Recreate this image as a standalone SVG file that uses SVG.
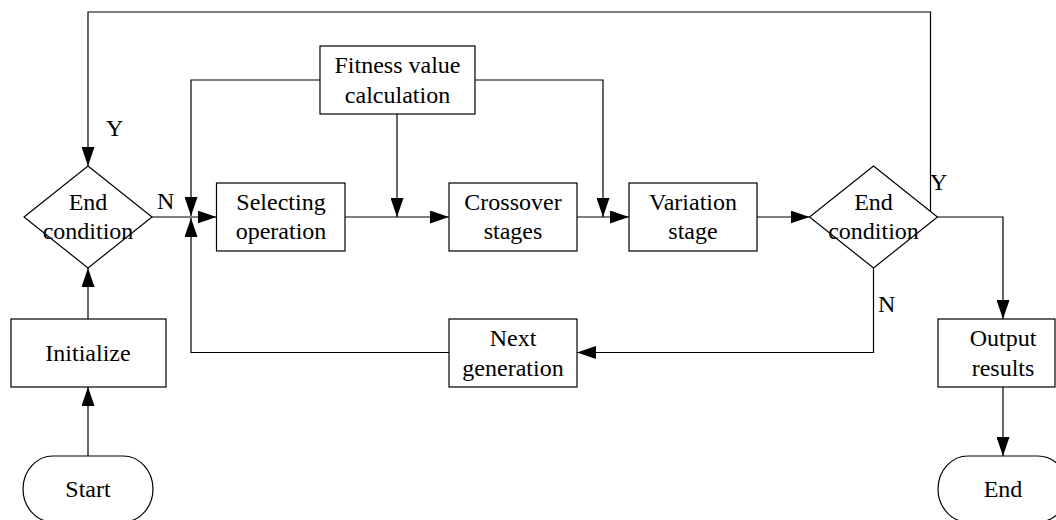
<svg xmlns="http://www.w3.org/2000/svg" width="1056" height="520" viewBox="0 0 1056 520">
<defs>
<marker id="arr" markerUnits="userSpaceOnUse" markerWidth="19" markerHeight="13" refX="19" refY="6.5" orient="auto">
<path d="M0,0 L19,6.5 L0,13 z" fill="#000"/>
</marker>
<style>
.n{fill:#fff;stroke:#000;stroke-width:1.2}
.t{font-family:"Liberation Serif","Times New Roman",serif;font-size:24px;fill:#000;text-anchor:middle}
.l{font-family:"Liberation Serif","Times New Roman",serif;font-size:24px;fill:#000}
.c{fill:none;stroke:#000;stroke-width:1.2}
</style>
</defs>
<rect width="1056" height="520" fill="#fff"/>
<g id="connectors">
<path class="c" d="M88,456 V387" marker-end="url(#arr)"/>
<path class="c" d="M88,319 V268" marker-end="url(#arr)"/>
<path class="c" d="M152,217 H216.5" marker-end="url(#arr)"/>
<path class="c" d="M345,217 H449" marker-end="url(#arr)"/>
<path class="c" d="M397,114 V217" marker-end="url(#arr)"/>
<path class="c" d="M320,80 H191 V216" marker-end="url(#arr)"/>
<path class="c" d="M475,80 H603 V217" marker-end="url(#arr)"/>
<path class="c" d="M577,217 H629" marker-end="url(#arr)"/>
<path class="c" d="M757,217 H809.5" marker-end="url(#arr)"/>
<path class="c" d="M873.5,268 V352.5 H577" marker-end="url(#arr)"/>
<path class="c" d="M449,352.5 H191 V218" marker-end="url(#arr)"/>
<path class="c" d="M937.5,217 H1003 V319" marker-end="url(#arr)"/>
<path class="c" d="M937.5,217 H930.5 V12 H88 V166" marker-end="url(#arr)"/>
<path class="c" d="M1003,387 V456" marker-end="url(#arr)"/>
<text class="l" x="106" y="136">Y</text>
<text class="l" x="157" y="209">N</text>
<text class="l" x="930" y="190">Y</text>
<text class="l" x="878" y="312">N</text>
</g>
<g id="start">
<rect class="n" x="23" y="456" width="130" height="66" rx="30" ry="33"/>
<text class="t" x="88" y="497">Start</text>
</g>
<g id="initialize">
<rect class="n" x="11" y="319" width="155" height="68"/>
<text class="t" x="88" y="361">Initialize</text>
</g>
<g id="end-condition-1">
<polygon class="n" points="88,166 152,217 88,268 24,217"/>
<text class="t" x="88" y="210">End</text>
<text class="t" x="88" y="239">condition</text>
</g>
<g id="fitness">
<rect class="n" x="320" y="46" width="155" height="68"/>
<text class="t" x="397.5" y="73">Fitness value</text>
<text class="t" x="397.5" y="103">calculation</text>
</g>
<g id="selecting">
<rect class="n" x="216.5" y="183" width="128.5" height="68"/>
<text class="t" x="281" y="210">Selecting</text>
<text class="t" x="281" y="239">operation</text>
</g>
<g id="crossover">
<rect class="n" x="449" y="183" width="128" height="68"/>
<text class="t" x="513" y="210">Crossover</text>
<text class="t" x="513" y="239">stages</text>
</g>
<g id="variation">
<rect class="n" x="629" y="183" width="128" height="68"/>
<text class="t" x="693" y="210">Variation</text>
<text class="t" x="693" y="239">stage</text>
</g>
<g id="end-condition-2">
<polygon class="n" points="873.5,166 937.5,217 873.5,268 809.5,217"/>
<text class="t" x="873.5" y="210">End</text>
<text class="t" x="873.5" y="239">condition</text>
</g>
<g id="next-generation">
<rect class="n" x="449" y="319" width="128" height="68"/>
<text class="t" x="513" y="346">Next</text>
<text class="t" x="513" y="376">generation</text>
</g>
<g id="output">
<rect class="n" x="938" y="319" width="117" height="68"/>
<text class="t" x="1003" y="346">Output</text>
<text class="t" x="1003" y="376">results</text>
</g>
<g id="end">
<rect class="n" x="938" y="456" width="130" height="66" rx="30" ry="33"/>
<text class="t" x="1003" y="497">End</text>
</g>
</svg>
